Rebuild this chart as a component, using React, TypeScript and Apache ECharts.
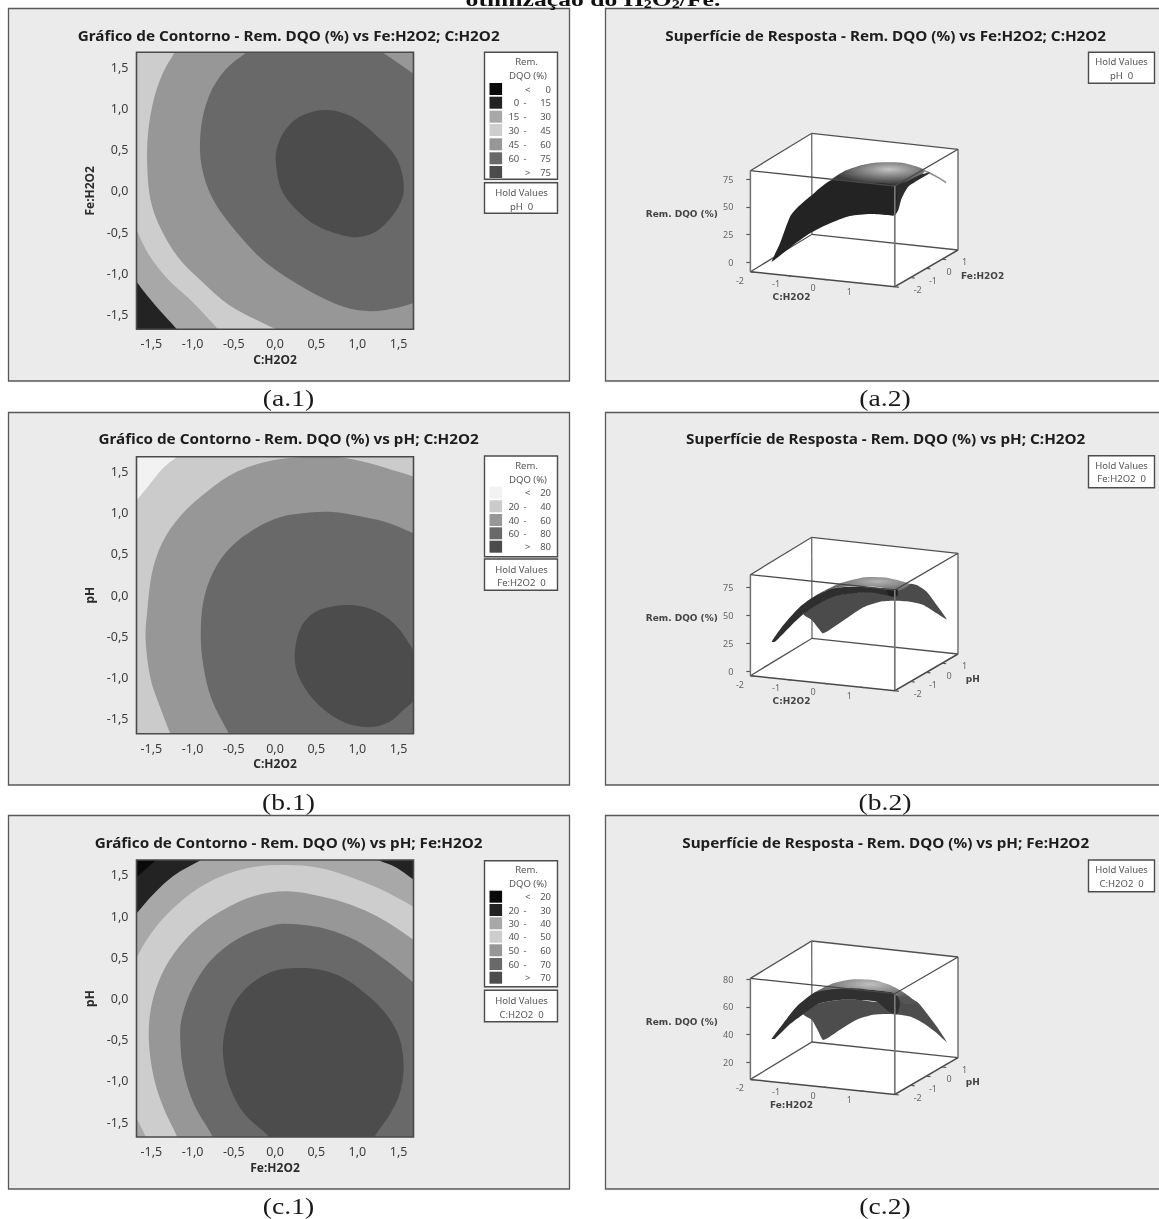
import React, { useEffect, useRef } from "react";
import * as echarts from "echarts";

// ---------- tick labels and legends ----------
const contourTicks = [-1.5, -1, -0.5, 0, 0.5, 1, 1.5];
const axisMin = -1.68;
const axisMax = 1.68;
const zTicksA2 = [0, 25, 50, 75];
const zTicksB2 = [0, 25, 50, 75];
const zTicksC2 = [20, 40, 60, 80];
const depthTicks = [-2, -1, 0, 1];
const widthTicks = [-2, -1, 0, 1];

const legendA1 = [["<", "0"], ["0", "15"], ["15", "30"], ["30", "45"], ["45", "60"], ["60", "75"], [">", "75"]];
const legendB1 = [["<", "20"], ["20", "40"], ["40", "60"], ["60", "80"], [">", "80"]];
const legendC1 = [["<", "20"], ["20", "30"], ["30", "40"], ["40", "50"], ["50", "60"], ["60", "70"], [">", "70"]];
const coloursA1 = ["#0a0a0a", "#232323", "#a8a8a8", "#cdcdcd", "#979797", "#696969", "#4c4c4c"];
const coloursB1 = ["#f2f2f2", "#cbcbcb", "#979797", "#696969", "#4c4c4c"];
const coloursC1 = ["#0a0a0a", "#232323", "#a8a8a8", "#cdcdcd", "#979797", "#696969", "#4c4c4c"];

// ---------- contour regions, in axis units (drawn nested, outermost first) ----------
const everywhere = [[-3, -3], [3, -3], [3, 3], [-3, 3]];

const a1Level0 = [[-1.75, -1.55], [-1.55, -1.78], [3, -3], [3, 3], [-3, 3]];
const a1Level15 = [[-1.78, -0.92], [-1.68, -1.1], [-1.45, -1.39], [-1.19, -1.68], [-1.1, -1.8], [3, -3], [3, 3], [-3, 3]];
const a1Level30 = [[-1.75, -0.3], [-1.68, -0.47], [-1.54, -0.76], [-1.31, -1.06], [-1, -1.35], [-0.69, -1.68], [-0.6, -1.78], [3, -3], [3, 3], [-3, 3]];
const a1Level45 = [[-1.15, 1.8], [-1.21, 1.69], [-1.36, 1.43], [-1.47, 1.11], [-1.54, 0.7], [-1.55, 0.3], [-1.51, -0.11], [-1.4, -0.43], [-1.18, -0.8], [-0.91, -1.08], [-0.55, -1.39], [0.01, -1.68], [0.15, -1.76], [3, -3], [3, 3]];
const a1Level60 = [[-0.2, 1.78], [-0.33, 1.69], [-0.6, 1.47], [-0.8, 1.15], [-0.9, 0.74], [-0.89, 0.3], [-0.75, -0.11], [-0.46, -0.51], [-0.1, -0.88], [0.39, -1.2], [0.84, -1.41], [1.15, -1.46], [1.42, -1.43], [1.68, -1.36], [1.85, -1.28], [2.2, 0], [1.85, 1.3], [1.68, 1.42], [1.29, 1.69], [1.15, 1.78], [0.5, 1.95]];
const a1Level75 = [[0.64, 0.98], [0.93, 0.9], [1.24, 0.66], [1.46, 0.42], [1.55, 0.17], [1.55, -0.07], [1.42, -0.31], [1.2, -0.51], [0.93, -0.56], [0.52, -0.43], [0.26, -0.23], [0.08, 0.01], [0.01, 0.34], [0.03, 0.54], [0.14, 0.76], [0.34, 0.92]];

const b1Level20 = [[-1.78, 1.02], [-1.68, 1.15], [-1.54, 1.32], [-1.36, 1.54], [-1.19, 1.68], [-1.08, 1.78], [3, 3], [3, -3], [-3, -3]];
const b1Level40 = [[-1.22, -1.8], [-1.27, -1.68], [-1.4, -1.34], [-1.51, -1.01], [-1.57, -0.53], [-1.55, -0.2], [-1.49, 0.28], [-1.36, 0.65], [-1.14, 0.97], [-0.82, 1.26], [-0.46, 1.5], [-0.01, 1.64], [0.39, 1.68], [0.75, 1.68], [1.15, 1.6], [1.42, 1.52], [1.68, 1.44], [1.85, 1.35], [3, 0], [3, -3]];
const b1Level60 = [[-0.5, -1.8], [-0.56, -1.68], [-0.77, -1.26], [-0.87, -0.85], [-0.9, -0.49], [-0.87, -0.08], [-0.75, 0.28], [-0.55, 0.57], [-0.24, 0.81], [0.07, 0.95], [0.39, 1], [0.7, 1.01], [0.97, 0.97], [1.33, 0.89], [1.68, 0.75], [1.85, 0.66], [3, 0], [3, -3]];
const b1Level80 = [[0.88, -0.12], [0.52, -0.19], [0.32, -0.38], [0.24, -0.71], [0.28, -0.97], [0.48, -1.28], [0.79, -1.52], [1.11, -1.6], [1.38, -1.54], [1.57, -1.38], [1.68, -1.28], [1.85, -1], [1.68, -0.67], [1.46, -0.36], [1.19, -0.18]];

const c1Level20 = [[-1.8, 1.35], [-1.68, 1.47], [-1.43, 1.69], [-1.32, 1.8], [0, 2.2], [3, 3], [3, -3], [-3, -3]];
const c1Level30 = [[-1.8, 0.88], [-1.68, 1.03], [-1.47, 1.27], [-1.23, 1.49], [-0.88, 1.69], [-0.75, 1.78], [0.2, 2.05], [1.1, 1.78], [1.23, 1.69], [1.47, 1.59], [1.67, 1.45], [1.82, 1.35], [3, -3], [-3, -3]];
const c1Level40 = [[-1.52, -1.78], [-1.57, -1.67], [-1.68, -1.45], [-1.78, -1.25], [-2.2, -0.4], [-1.8, 0.3], [-1.68, 0.5], [-1.51, 0.78], [-1.27, 1.06], [-0.94, 1.33], [-0.58, 1.51], [-0.22, 1.6], [0.14, 1.62], [0.51, 1.59], [0.87, 1.49], [1.27, 1.33], [1.67, 1.12], [1.8, 1.05], [3, -3]];
const c1Level50 = [[-1.15, -1.8], [-1.19, -1.67], [-1.35, -1.33], [-1.47, -0.96], [-1.53, -0.52], [-1.51, -0.15], [-1.41, 0.21], [-1.23, 0.54], [-0.94, 0.86], [-0.62, 1.08], [-0.26, 1.24], [0.14, 1.3], [0.55, 1.24], [0.91, 1.14], [1.27, 0.98], [1.67, 0.72], [1.8, 0.62], [3, -3]];
const c1Level60 = [[-0.72, -1.8], [-0.76, -1.67], [-0.98, -1.29], [-1.11, -0.88], [-1.15, -0.48], [-1.13, -0.23], [-1, 0.13], [-0.78, 0.46], [-0.46, 0.72], [-0.02, 0.89], [0.26, 0.9], [0.63, 0.84], [0.99, 0.7], [1.35, 0.46], [1.67, 0.2], [1.8, 0.1], [3, -3]];
const c1Level70 = [[-0.02, -1.8], [-0.08, -1.67], [-0.38, -1.39], [-0.56, -1.04], [-0.63, -0.68], [-0.61, -0.4], [-0.5, -0.07], [-0.3, 0.17], [-0.02, 0.33], [0.26, 0.37], [0.55, 0.35], [0.83, 0.25], [1.11, 0.05], [1.35, -0.19], [1.51, -0.48], [1.56, -0.84], [1.51, -1.16], [1.39, -1.41], [1.21, -1.67], [1.15, -1.8], [0.55, -1.95]];

// ---------- response surfaces: projected position along the box, height in Rem. DQO (%) ----------
const a2Front = [[21.3, 0.5], [29.6, 17.2], [39.6, 41.2], [46.3, 48.8], [59.6, 59.3], [81.3, 74.3], [109.6, 71.9], [144.6, 68.9], [144.6, 42.7], [136.3, 42.7], [119.6, 43.6], [99.6, 41.8], [79.6, 35.2], [59.6, 26.2], [42.9, 15.6], [26.3, 3.6]];
const a2Right = [[144.6, 68.9], [156.3, 72.8], [169.6, 78.9], [179.6, 80.9], [167.9, 74.3], [157.9, 68.3], [151.3, 57.8], [147.9, 47.2], [144.6, 42.7]];
const a2Top = [[81.3, 74.3], [92.9, 81.8], [109.6, 87.3], [126.3, 90], [149.6, 90], [166.3, 86.4], [174.6, 82.7], [164.6, 74.3], [144.6, 68.9], [109.6, 71.9]];
const a2Tail = [[172.9, 82.8], [179.6, 80.4], [187.9, 76.4], [195.6, 71.9]];

const b2Main = [[53, 51.5], [73, 65.5], [103, 70.5], [146.3, 72.5], [159.6, 78.5], [166.3, 77.4], [176.3, 71.4], [186.3, 59.6], [196.3, 46.8], [186.3, 52.1], [173, 59.6], [159.6, 62.5], [143, 63.4], [129.6, 62.5], [113, 57.5], [96.3, 47.7], [73, 34.3], [68, 38.8], [61.3, 46.2]];
const b2Top = [[66.3, 68.5], [89.6, 78.9], [114.6, 84.3], [136.3, 83.9], [153, 80.4], [159.6, 78], [146.3, 71.4], [129.6, 75.4], [106.3, 76.5], [83, 74.5]];
const b2Band = [[21.3, 26.8], [33, 41.7], [49.6, 58], [64.6, 67.6], [83, 74.5], [106.3, 75.9], [129.6, 74.5], [146.3, 71.4], [144.6, 67], [123, 70.5], [103, 70], [83, 67], [66.3, 59.6], [53, 51.5], [39.6, 40.2], [24.6, 26.8]];
const b2Blob = [[136.3, 72.9], [146.9, 73.6], [146.9, 67.6], [139.6, 67.6]];

const c2Main = [[53, 54.8], [69.6, 62.7], [89.6, 65.1], [109.6, 65.1], [126.3, 63.9], [144.6, 68], [153, 68], [166.3, 63.9], [176.3, 55.5], [186.3, 45.9], [196.3, 34.7], [186.3, 41.2], [173, 48.3], [159.6, 53.1], [143, 54.8], [123, 54.3], [106.3, 50.7], [89.6, 43.5], [73, 36.1], [68, 42.3], [61.3, 50.7]];
const c2Top = [[63, 69.9], [83, 77.1], [103, 80], [123, 79.5], [139.6, 75.9], [153, 70.6], [166.3, 62.7], [153, 62.7], [144.6, 69.9], [123, 72.3], [99.6, 73], [76.3, 71.1]];
const c2Band = [[21.3, 37], [33, 48.3], [46.3, 60.3], [63, 69.9], [76.3, 72.3], [99.6, 73.5], [123, 72.3], [144.6, 69.9], [149.6, 62.7], [146.3, 54.8], [136.3, 57.9], [126.3, 63.9], [109.6, 65.1], [89.6, 65.1], [69.6, 62.7], [53, 54.8], [39.6, 47.6], [24.6, 37]];

// ---------- layout ----------
const ui = "'Noto Sans', sans-serif";
const labelInk = "#3c3c3c";
const panelTops = [8.5, 412.5, 815.5];
const panelBottoms = [381, 785, 1189];
const plotTops = [52.3, 456.7, 860];
const plotLeft = 136.5;
const plotSize = 277;
const boxShift = [0, 404, 807.7];

type Pts = number[][];

function contourSeries(gridIndex: number, regions: Pts[], colours: string[]) {
  return {
    type: "custom",
    xAxisIndex: gridIndex,
    yAxisIndex: gridIndex,
    clip: true,
    silent: true,
    z: 3,
    data: regions.map((_, i) => [i, 0]),
    renderItem: (params: any, api: any) => {
      const i = params.dataIndex;
      return {
        type: "polygon",
        shape: { points: regions[i].map((p) => api.coord(p)), smooth: i === 0 ? 0 : 0.34 },
        style: { fill: colours[i] },
      };
    },
  };
}

function surfaceSeries(gridIndex: number, layers: { pts: Pts; fill?: any; line?: string }[]) {
  return {
    type: "custom",
    xAxisIndex: gridIndex,
    yAxisIndex: gridIndex,
    silent: true,
    z: 3,
    data: layers.map((_, i) => [i, 0]),
    renderItem: (params: any, api: any) => {
      const l = layers[params.dataIndex];
      const points = l.pts.map((p) => api.coord(p));
      if (l.line) {
        return { type: "polyline", shape: { points, smooth: 0.3 }, style: { fill: null, stroke: l.line, lineWidth: 1.6 } };
      }
      return { type: "polygon", shape: { points, smooth: 0.22 }, style: { fill: l.fill } };
    },
  };
}

const decimal = (v: number) => v.toFixed(1).replace(".", ",");

function contourAxes(gridIndex: number, xName: string, yName: string) {
  const common = {
    type: "value",
    gridIndex,
    min: axisMin,
    max: axisMax,
    nameLocation: "middle",
    nameTextStyle: { fontFamily: ui, fontWeight: "bold", fontSize: 12, color: "#2c2c2c" },
    splitLine: { show: false },
    axisLine: { show: false },
    axisTick: { show: true, length: 4, customValues: contourTicks, lineStyle: { color: "#444", width: 1.2 } },
  };
  return {
    x: {
      ...common,
      name: xName,
      nameGap: 24,
      axisLabel: { customValues: contourTicks, formatter: decimal, margin: 8, fontFamily: ui, fontSize: 12.5, color: labelInk },
    },
    y: {
      ...common,
      name: yName,
      nameGap: 41,
      axisLabel: { customValues: contourTicks, formatter: decimal, margin: 8, fontFamily: ui, fontSize: 12.5, color: labelInk },
    },
  };
}

function App() {
  const ref = useRef<HTMLDivElement>(null);
  useEffect(() => {
    const chart = echarts.init(ref.current!, null, { renderer: "svg" });
    const g: any[] = [];
    const txt = (x: number, y: number, text: string, o: any = {}) =>
      g.push({
        type: "text",
        x,
        y,
        z: 10,
        silent: true,
        rotation: o.rotation || 0,
        scaleX: o.scaleX || 1,
        style: {
          text,
          fill: o.fill || "#555",
          font: o.font || `9.5px ${ui}`,
          align: o.align || "center",
          verticalAlign: "middle",
        },
      });
    const box = (x: number, y: number, w: number, h: number, fill: string, stroke: string, lw: number, z: number) =>
      g.push({ type: "rect", z, silent: true, shape: { x, y, width: w, height: h }, style: { fill, stroke, lineWidth: lw } });
    const seg = (pts: number[][], stroke: string, lw: number, z: number) =>
      g.push({ type: "polyline", z, silent: true, shape: { points: pts }, style: { fill: "none", stroke, lineWidth: lw } });

    // panels and contour furniture
    [0, 1, 2].forEach((r) => {
      box(8.5, panelTops[r], 561, panelBottoms[r] - panelTops[r], "#ebebeb", "#585858", 1.3, -10);
      box(605.5, panelTops[r], 560, panelBottoms[r] - panelTops[r], "#ebebeb", "#585858", 1.3, -10);
      box(plotLeft, plotTops[r], plotSize, plotSize, "none", "#4a4a4a", 1.6, 6);
    });

    const titleOpts = { font: `bold 14px ${ui}`, fill: "#1d1d1d", scaleX: 1.09 };
    txt(288.7, 35, "Gráfico de Contorno - Rem. DQO (%) vs Fe:H2O2; C:H2O2", titleOpts);
    txt(885.7, 35, "Superfície de Resposta - Rem. DQO (%) vs Fe:H2O2; C:H2O2", titleOpts);
    txt(288.6, 438.3, "Gráfico de Contorno - Rem. DQO (%) vs pH; C:H2O2", titleOpts);
    txt(885.7, 438.3, "Superfície de Resposta - Rem. DQO (%) vs pH; C:H2O2", titleOpts);
    txt(288.6, 842.7, "Gráfico de Contorno - Rem. DQO (%) vs pH; Fe:H2O2", titleOpts);
    txt(885.7, 842.7, "Superfície de Resposta - Rem. DQO (%) vs pH; Fe:H2O2", titleOpts);

    // caption pieces
    const serif = "'Liberation Serif', serif";
    const capOpts = { font: `23px ${serif}`, fill: "#1a1a1a", scaleX: 1.2 };
    [["(a.1)", 288.5, 397.5], ["(a.2)", 885, 397.5], ["(b.1)", 288.5, 801.5], ["(b.2)", 885, 801.5], ["(c.1)", 288.5, 1205.5], ["(c.2)", 885, 1205.5]].forEach(
      ([t, x, y]) => txt(x as number, y as number, t as string, capOpts)
    );
    g.push({
      type: "text",
      x: 593,
      y: 0,
      z: 10,
      silent: true,
      scaleX: 1.35,
      style: {
        text: "{a|otimização do H}{s|2}{a|O}{s|2}{a|/Fe.}",
        align: "center",
        verticalAlign: "middle",
        fill: "#111",
        rich: {
          a: { font: `bold 19px ${serif}`, fill: "#111" },
          s: { font: `bold 12px ${serif}`, fill: "#111", padding: [8, 0, 0, 0] },
        },
      },
    });

    // legends
    const legend = (top: number, bottom: number, holdTop: number, holdBottom: number, rows: string[][], cols: string[], rowYs: number[], remY: number, dqoY: number, hold: string, holdY: number[]) => {
      box(484.5, top, 73, bottom - top, "#ffffff", "#4c4c4c", 1.4, 2);
      box(484.5, holdTop, 73, holdBottom - holdTop, "#ffffff", "#4c4c4c", 1.4, 2);
      txt(526.5, remY, "Rem.");
      txt(528, dqoY, "DQO (%)");
      rows.forEach((row, i) => {
        box(489.5, rowYs[i] - 6, 12.6, 12, cols[i], "none", 0, 3);
        if (row[0] === "<" || row[0] === ">") {
          txt(527.7, rowYs[i], row[0]);
        } else {
          txt(519.3, rowYs[i], row[0], { align: "right" });
          txt(525, rowYs[i], "-");
        }
        txt(551, rowYs[i], row[1], { align: "right" });
      });
      txt(521.5, holdY[0], "Hold Values");
      txt(521.5, holdY[1], hold);
    };
    legend(52.3, 179.3, 182.7, 213.3, legendA1, coloursA1, [89, 102.7, 116.7, 130, 144.3, 158.3, 172], 61.7, 75, "pH  0", [192.7, 206.7]);
    legend(456, 556.7, 559, 590.3, legendB1, coloursB1, [492.7, 506.3, 520, 533.3, 546.7], 465.7, 479, "Fe:H2O2  0", [569, 582.7]);
    legend(860.7, 986.7, 990.3, 1021.7, legendC1, coloursC1, [896.7, 910, 923.3, 936.7, 950.3, 964, 977.7], 869.3, 883, "C:H2O2  0", [1000, 1014]);

    // 3D boxes
    const xNames = ["C:H2O2", "C:H2O2", "Fe:H2O2"];
    const depthNames = ["Fe:H2O2", "pH", "pH"];
    const depthNameX = [982.6, 972.8, 972.8];
    const holdRight = ["pH  0", "Fe:H2O2  0", "C:H2O2  0"];
    const holdTops = [52.3, 455.7, 860];
    const holdBottoms = [83.3, 487.7, 891.7];
    const remY = [214.3, 618.3, 1022.3];
    boxShift.forEach((dy, r) => {
      const A = [750.4, 170.7 + dy], B = [894.8, 186 + dy], C = [958, 149.3 + dy], D = [811.7, 133.3 + dy];
      const E = [750.4, 271.7 + dy], F = [894.8, 286.7 + dy], G = [958, 250 + dy], H = [812, 234.3 + dy];
      g.push({ type: "polygon", z: -5, silent: true, shape: { points: [A, D, C, G, F, E] }, style: { fill: "#ffffff" } });
      // back edges, behind the surface
      seg([A, D, C], "#505050", 1.3, 1);
      seg([D, H], "#6a6a6a", 1.3, 1);
      seg([E, H, G], "#505050", 1.3, 1);
      seg([C, G], "#707070", 1.5, 1);
      // front edges, over the surface
      seg([A, B, C], "#484848", 1.3, 6);
      seg([B, F], "#777777", 1.7, 6);
      seg([A, E], "#707070", 1.5, 6);
      seg([E, F, G], "#484848", 1.5, 6);
      widthTicks.forEach((v) => {
        const t = (v + 2) / 3.94;
        const p = [E[0] + t * (F[0] - E[0]), E[1] + t * (F[1] - E[1])];
        seg([p, [p[0] + 4, p[1] + 0.6]], "#555", 1.2, 6);
      });
      depthTicks.forEach((v) => {
        const t = (v + 2) / 4;
        const p = [F[0] + t * (G[0] - F[0]), F[1] + t * (G[1] - F[1])];
        seg([p, [p[0] + 4, p[1] + 0.6]], "#555", 1.2, 6);
      });
      const small = `9px ${ui}`;
      [[739.9, 280], [776.1, 283.3], [813.2, 287.3], [849.4, 291.7]].forEach((p, i) =>
        txt(p[0], p[1] + dy, String(widthTicks[i]), { font: small, fill: "#666" })
      );
      [[917.7, 289.3], [932.9, 280.7], [949.2, 271], [964.5, 261.7]].forEach((p, i) =>
        txt(p[0], p[1] + dy, String(depthTicks[i]), { font: small, fill: "#666" })
      );
      const boldSmall = `bold 9px 'DejaVu Sans', sans-serif`;
      txt(791.5, 297.3 + dy, xNames[r], { font: boldSmall, fill: "#444" });
      txt(depthNameX[r], (r === 0 ? 275.7 : 274.7) + dy, depthNames[r], { font: boldSmall, fill: "#444" });
      txt(681.8, remY[r], "Rem. DQO (%)", { font: boldSmall, fill: "#444" });
      box(1088.5, holdTops[r], 66, holdBottoms[r] - holdTops[r], "#ffffff", "#4c4c4c", 1.4, 2);
      txt(1121.6, holdTops[r] + 9.5, "Hold Values");
      txt(1121.6, holdTops[r] + 23, holdRight[r]);
    });

    // axes and grids
    const grids: any[] = [];
    const xAxes: any[] = [];
    const yAxes: any[] = [];
    const contourNames = [["C:H2O2", "Fe:H2O2"], ["C:H2O2", "pH"], ["Fe:H2O2", "pH"]];
    plotTops.forEach((top, r) => {
      grids.push({ left: plotLeft, top, width: plotSize, height: plotSize, outerBoundsMode: "none" });
      const ax = contourAxes(r, contourNames[r][0], contourNames[r][1]);
      xAxes.push(ax.x);
      yAxes.push(ax.y);
    });
    const zRange = [[-8.5, 82.7], [-3.6, 86.6], [7.55, 80.7]];
    const zTicks = [zTicksA2, zTicksB2, zTicksC2];
    boxShift.forEach((dy, r) => {
      grids.push({ left: 750.4, top: 170.7 + dy, width: 207.6, height: 101, outerBoundsMode: "none" });
      xAxes.push({ type: "value", gridIndex: 3 + r, min: 0, max: 207.6, show: false });
      yAxes.push({
        type: "value",
        gridIndex: 3 + r,
        min: zRange[r][0],
        max: zRange[r][1],
        splitLine: { show: false },
        axisLine: { show: false },
        axisTick: { show: true, length: 4, customValues: zTicks[r], lineStyle: { color: "#555", width: 1.2 } },
        axisLabel: { customValues: zTicks[r], margin: 17, fontFamily: ui, fontSize: 9, color: "#666" },
      });
    });

    const lit = (cx: number, cy: number, a: string, b: string) =>
      new echarts.graphic.RadialGradient(cx, cy, 0.62, [
        { offset: 0, color: a },
        { offset: 1, color: b },
      ]);

    chart.setOption({
      animation: false,
      backgroundColor: "#ffffff",
      grid: grids,
      xAxis: xAxes,
      yAxis: yAxes,
      graphic: { elements: g },
      series: [
        contourSeries(0, [everywhere, a1Level0, a1Level15, a1Level30, a1Level45, a1Level60, a1Level75], coloursA1),
        contourSeries(1, [everywhere, b1Level20, b1Level40, b1Level60, b1Level80], coloursB1),
        contourSeries(2, [everywhere, c1Level20, c1Level30, c1Level40, c1Level50, c1Level60, c1Level70], coloursC1),
        surfaceSeries(3, [
          { pts: a2Top, fill: lit(0.62, 0.3, "#c4c4c4", "#3a3a3a") },
          { pts: a2Tail, line: "#8e8e8e" },
          { pts: a2Right, fill: "#2c2c2c" },
          { pts: a2Front, fill: "#232323" },
        ]),
        surfaceSeries(4, [
          { pts: b2Main, fill: "#4b4b4b" },
          { pts: b2Top, fill: lit(0.65, 0.25, "#b4b4b4", "#5a5a5a") },
          { pts: b2Band, fill: "#2e2e2e" },
          { pts: b2Blob, fill: "#1f1f1f" },
        ]),
        surfaceSeries(5, [
          { pts: c2Main, fill: "#4d4d4d" },
          { pts: c2Top, fill: lit(0.55, 0.2, "#c0c0c0", "#555555") },
          { pts: c2Band, fill: "#303030" },
        ]),
      ],
    });
    return () => chart.dispose();
  }, []);
  return <div ref={ref} style={{ position: "absolute", left: 0, top: 0, width: 1159, height: 1219, filter: "blur(0.5px)" }} />;
}

export default App;
